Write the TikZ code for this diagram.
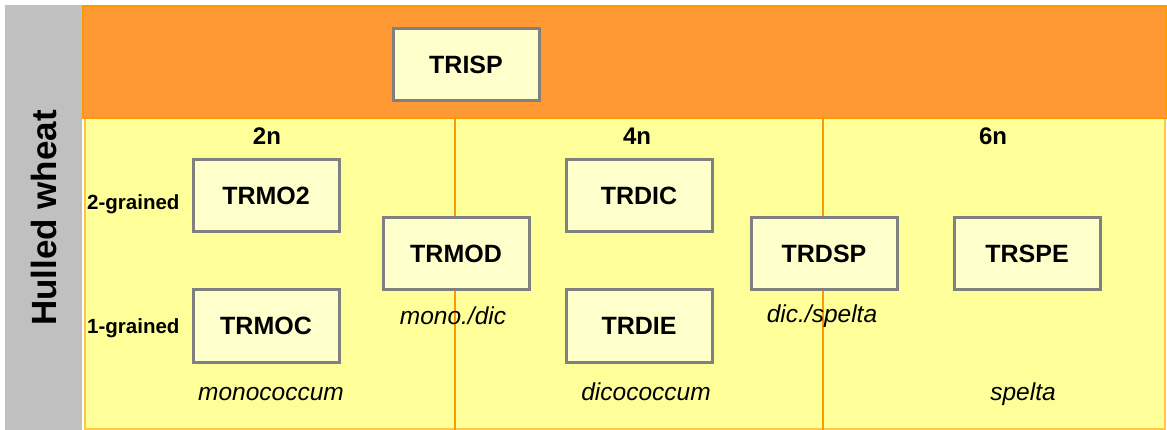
\documentclass[tikz,border=0pt]{standalone}
\usepackage{fontspec}
\setmainfont{Liberation Sans}
\definecolor{bandorange}{HTML}{FF9933}
\definecolor{lineorange}{HTML}{FF9900}
\definecolor{paleyellow}{HTML}{FFFF99}
\definecolor{boxyellow}{HTML}{FFFFCC}
\definecolor{sidegrey}{HTML}{C0C0C0}
\definecolor{boxgrey}{HTML}{808080}

\begin{document}
\begin{tikzpicture}
    [x=1pt,y=-1pt,
     taxon/.style={draw=boxgrey,line width=3pt,fill=boxyellow,minimum width=146pt,minimum height=72pt,inner sep=0pt,font=\fontsize{25}{30}\selectfont\bfseries},
     ploidy/.style={anchor=base,font=\fontsize{24}{28}\selectfont\bfseries},
     grain/.style={anchor=base east,font=\fontsize{20.5}{24}\selectfont\bfseries},
     species/.style={anchor=base,font=\fontsize{24.5}{28}\selectfont\itshape}]
    \useasboundingbox (0,0) rectangle (1167,430);
    \fill[white] (0,0) rectangle (1167,430);
    \fill[sidegrey] (5,5) rectangle (82,430);
    \filldraw[fill=paleyellow,draw=lineorange!55!paleyellow,line width=2pt] (85,118) rectangle (1165,429);
    \filldraw[fill=bandorange,draw=lineorange,line width=2pt] (83,6) rectangle (1167,118);
    \draw[lineorange,line width=2.5pt] (455,119) -- (455,430);
    \draw[lineorange,line width=2.5pt] (823,119) -- (823,430);
    \node[rotate=90,font=\fontsize{35}{40}\selectfont\bfseries] (hulled) at (44,218) {Hulled wheat};
    \node[taxon] (trisp) at (466,65) {TRISP};
    \node[taxon] (trmo2) at (266,196) {TRMO2};
    \node[taxon] (trmoc) at (266,326) {TRMOC};
    \node[taxon] (trmod) at (456,254) {TRMOD};
    \node[taxon] (trdic) at (639,196) {TRDIC};
    \node[taxon] (trdie) at (639,326) {TRDIE};
    \node[taxon] (trdsp) at (824,254) {TRDSP};
    \node[taxon] (trspe) at (1027,254) {TRSPE};
    \node[ploidy] (p2n) at (267,145) {2n};
    \node[ploidy] (p4n) at (637,145) {4n};
    \node[ploidy] (p6n) at (993,145) {6n};
    \node[grain] (grain2) at (183,210) {2-grained};
    \node[grain] (grain1) at (183,334) {1-grained};
    \node[species] (monodic) at (453,324) {mono./dic};
    \node[species] (dicspelta) at (822,322) {dic./spelta};
    \node[species] (mono) at (271,400) {monococcum};
    \node[species] (dico) at (646,400) {dicococcum};
    \node[species] (spelta) at (1023,400) {spelta};
  \end{tikzpicture}
\end{document}
